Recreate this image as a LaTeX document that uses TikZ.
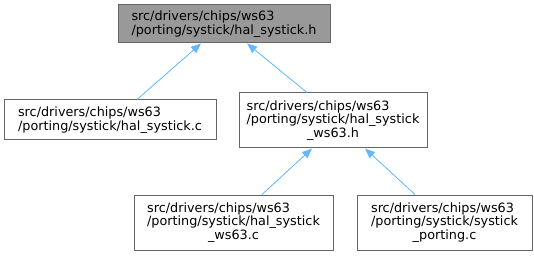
\documentclass[tikz,border=0pt]{standalone}
\usepackage{fontspec}
\setmainfont{DejaVu Sans}
\usetikzlibrary{arrows.meta,calc}
\definecolor{edgeblue}{HTML}{63B8FF}
\definecolor{boxline}{HTML}{666666}
\definecolor{topfill}{HTML}{999999}
\begin{document}
\begin{tikzpicture}[
        x=0.75pt, y=-0.75pt,
        font=\fontsize{9.6}{10.1}\selectfont,
        file/.style={rectangle, draw=boxline, line width=0.75pt, fill=white, inner sep=0pt, align=left},
        current/.style={file, fill=topfill},
        edge/.style={{Triangle[length=7.5pt,width=6pt]}-, draw=edgeblue, fill=edgeblue, line width=0.6pt}
    ]
    \useasboundingbox (0,0) rectangle (534,256);

    % Files
    \node[current, minimum width=212*0.75pt, minimum height=38*0.75pt] (top) at (224,24) {src/drivers/chips/ws63\\/porting/systick/hal\_systick.h};
    \node[file, minimum width=212*0.75pt, minimum height=40*0.75pt] (halc) at (110,120) {src/drivers/chips/ws63\\/porting/systick/hal\_systick.c};
    \node[file, minimum width=188*0.75pt, minimum height=55*0.75pt] (wsh) at (333,120.5) {src/drivers/chips/ws63\\/porting/systick/hal\_systick\\\hspace*{\fill}\_ws63.h\hspace*{\fill}};
    \node[file, minimum width=199*0.75pt, minimum height=55*0.75pt] (wsc) at (233.5,222.5) {src/drivers/chips/ws63\\/porting/systick/hal\_systick\\\hspace*{\fill}\_ws63.c\hspace*{\fill}};
    \node[file, minimum width=175*0.75pt, minimum height=55*0.75pt] (portc) at (444.5,222.5) {src/drivers/chips/ws63\\/porting/systick/systick\\\hspace*{\fill}\_porting.c\hspace*{\fill}};

    % Includes
    \draw[edge] ($(top.south)+(-23,0)$) -- ($(halc.north)+(27,0)$);
    \draw[edge] ($(top.south)+(23,0)$) -- ($(wsh.north)+(-26,0)$);
    \draw[edge] ($(wsh.south)+(-21,0)$) -- ($(wsc.north)+(28.5,0)$);
    \draw[edge] ($(wsh.south)+(32,0)$) -- ($(portc.north)+(-29.5,0)$);

\end{tikzpicture}
\end{document}
